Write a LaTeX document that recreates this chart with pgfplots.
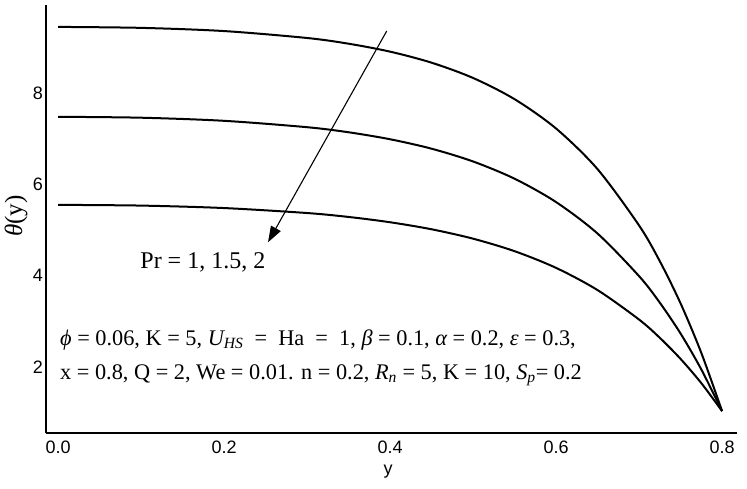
\documentclass[border=0pt]{standalone}
\usepackage{fontspec}
\setmainfont{Liberation Sans}
\newfontfamily\tnr{Liberation Serif}
\usepackage{pgfplots}
\pgfplotsset{compat=1.18}
\usetikzlibrary{arrows.meta}
\begin{document}
\begin{tikzpicture}
\begin{axis}[name=ax,
  scale only axis, width=691pt, height=428pt,
  xmin=-0.0145, xmax=0.818, ymin=0.55, ymax=9.93,
  axis lines=left, axis line style={line width=2.2pt, -},
  clip=false,
  xtick={0,0.2,0.4,0.6,0.8}, ytick={2,4,6,8},
  major tick length=0pt,
  xticklabel style={/pgf/number format/fixed,/pgf/number format/precision=1,/pgf/number format/fixed zerofill, font=\fontsize{18}{18}\selectfont, inner sep=0pt, yshift=-8pt},
  yticklabel style={font=\fontsize{18}{18}\selectfont, inner sep=0pt, xshift=-3pt},
  /pgf/number format/assume math mode=true,
  xlabel={y}, xlabel style={font=\fontsize{18}{18}\selectfont, at={(axis description cs:0.495,-0.091)}, anchor=center},
  ylabel={\tnr\itshape θ\upshape(y)}, ylabel style={font=\fontsize{25}{25}\selectfont, at={(axis description cs:-0.0434,0.507)}, anchor=center},
]
\addplot[black, line width=2pt, smooth] coordinates {
(0.0,9.45)(0.1,9.429)(0.2,9.359)(0.3,9.207)(0.35,9.082)(0.4,8.908)(0.45,8.666)(0.5,8.331)(0.55,7.866)(0.6,7.223)(0.65,6.332)(0.7,5.099)(0.725,4.315)(0.75,3.391)(0.775,2.305)(0.8,1.03)};
\addplot[black, line width=2pt, smooth] coordinates {
(0.0,7.48)(0.1,7.460)(0.2,7.392)(0.3,7.252)(0.35,7.141)(0.4,6.988)(0.45,6.781)(0.5,6.501)(0.55,6.123)(0.6,5.611)(0.65,4.921)(0.7,3.988)(0.725,3.406)(0.75,2.730)(0.775,1.943)(0.8,1.03)};
\addplot[black, line width=2pt, smooth] coordinates {
(0.0,5.55)(0.1,5.534)(0.2,5.480)(0.3,5.371)(0.35,5.285)(0.4,5.169)(0.45,5.015)(0.5,4.809)(0.55,4.535)(0.6,4.169)(0.65,3.682)(0.7,3.036)(0.725,2.636)(0.75,2.174)(0.775,1.643)(0.8,1.03)};
\draw[line width=1.1pt, -{Triangle[length=16pt,width=11pt]}] (axis cs:0.396,9.36) -- (axis cs:0.253,4.73);
\node[anchor=west, font=\tnr\fontsize{24}{24}\selectfont, inner sep=0pt] at (axis cs:0.099,4.28) {Pr = 1, 1.5, 2};
\node[anchor=west, font=\tnr\fontsize{22.3}{22.3}\selectfont, inner sep=0pt] at (axis cs:0.0024,2.59) {\itshape ϕ\upshape{} = 0.06, K = 5, \itshape U\textsubscript{HS}\upshape{} \ = \ Ha \ = \ 1, \itshape β\upshape{} = 0.1, \itshape α\upshape{} = 0.2, \itshape ε\upshape{} = 0.3,};
\node[anchor=west, font=\tnr\fontsize{22.3}{22.3}\selectfont, inner sep=0pt] at (axis cs:0.0024,1.82) {x = 0.8, Q = 2, We = 0.01. n = 0.2, \itshape R\textsubscript{n}\upshape{} = 5, K = 10, \itshape S\textsubscript{p}\upshape= 0.2};
\end{axis}
\path (ax.south west) ++(-46pt,-55pt) rectangle ++(747pt,488pt);
\end{tikzpicture}
\end{document}
